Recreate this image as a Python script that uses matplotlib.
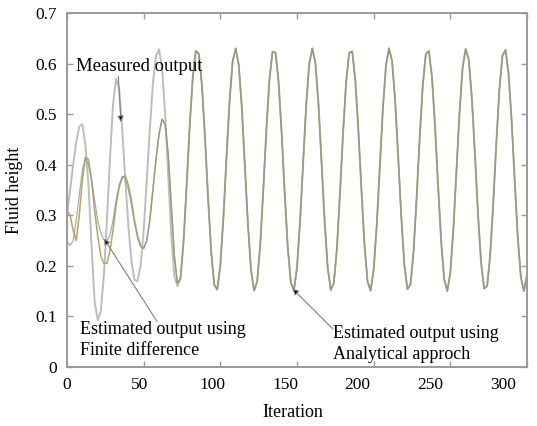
import matplotlib
matplotlib.use("Agg")
import matplotlib.pyplot as plt
from matplotlib.transforms import ScaledTranslation

plt.rcParams['font.family'] = ['Liberation Serif', 'DejaVu Serif']

# sampled every 2 iterations
iteration = list(range(0, 301, 2))

# early transient (iterations 0..72)
measured_start = [0.30, 0.35, 0.40, 0.445, 0.475, 0.48, 0.44, 0.36, 0.24, 0.13,
                  0.093, 0.11, 0.18, 0.29, 0.41, 0.52, 0.57, 0.55, 0.47, 0.37,
                  0.28, 0.21, 0.172, 0.17, 0.20, 0.27, 0.37, 0.47, 0.56, 0.615,
                  0.628, 0.59, 0.50, 0.38, 0.26, 0.18, 0.16]
fd_start = [0.31, 0.30, 0.27, 0.25, 0.30, 0.37, 0.415, 0.41, 0.37, 0.31,
            0.26, 0.22, 0.205, 0.205, 0.23, 0.27, 0.32, 0.355, 0.375, 0.378,
            0.36, 0.33, 0.29, 0.26, 0.24, 0.235, 0.25, 0.29, 0.35, 0.41,
            0.46, 0.49, 0.48, 0.42, 0.32, 0.22, 0.165]
analytical_start = [0.25, 0.24, 0.25, 0.29, 0.34, 0.39, 0.412, 0.40, 0.37, 0.33,
                    0.29, 0.265, 0.252, 0.25, 0.26, 0.29, 0.33, 0.36, 0.377, 0.372,
                    0.35, 0.32, 0.285, 0.255, 0.238, 0.234, 0.25, 0.29, 0.35, 0.41,
                    0.46, 0.49, 0.48, 0.42, 0.32, 0.22, 0.165]

# steady oscillation (iterations 74..300), all three curves overlap here
steady_tail = [0.175, 0.248, 0.358, 0.476, 0.573, 0.625, 0.619, 0.557, 0.453, 0.334,
               0.229, 0.163, 0.153, 0.202, 0.296, 0.414, 0.526, 0.604, 0.630, 0.597,
               0.513, 0.398, 0.282, 0.192, 0.151, 0.169, 0.241, 0.350, 0.468, 0.568,
               0.623, 0.622, 0.563, 0.461, 0.342, 0.235, 0.166, 0.152, 0.197, 0.289,
               0.406, 0.519, 0.600, 0.630, 0.601, 0.520, 0.406, 0.289, 0.197, 0.152,
               0.166, 0.234, 0.342, 0.461, 0.562, 0.621, 0.624, 0.568, 0.469, 0.351,
               0.242, 0.169, 0.151, 0.192, 0.281, 0.397, 0.511, 0.596, 0.630, 0.605,
               0.527, 0.415, 0.297, 0.202, 0.154, 0.163, 0.228, 0.334, 0.453, 0.556,
               0.619, 0.625, 0.574, 0.477, 0.359, 0.249, 0.173, 0.150, 0.187, 0.274,
               0.389, 0.504, 0.592, 0.629, 0.608, 0.533, 0.423, 0.305, 0.208, 0.155,
               0.160, 0.222, 0.325, 0.444, 0.550, 0.616, 0.627, 0.579, 0.485, 0.367,
               0.255, 0.177, 0.150, 0.183]

measured = measured_start + steady_tail
finite_diff = fd_start + steady_tail
analytical = analytical_start + steady_tail

xticks = [0, 50, 100, 150, 200, 250, 300]
yticks = [0, 0.1, 0.2, 0.3, 0.4, 0.5, 0.6, 0.7]

fig = plt.figure(figsize=(5.37, 4.26), dpi=100)
ax = fig.add_axes([0.1248, 0.1385, 0.8566, 0.831])

ax.plot(iteration, measured, color='#bdbdbd', lw=1.4)
ax.plot(iteration, finite_diff, color='#b3a85e', lw=1.1)
ax.plot(iteration, analytical, color='#8a9498', lw=0.9, alpha=0.75)

ax.set_xlim(0, 300)
ax.set_ylim(0, 0.7)
ax.set_xticks(xticks)
ax.set_yticks(yticks)
ax.set_yticklabels(['0', '0.1', '0.2', '0.3', '0.4', '0.5', '0.6', '0.7'])
ax.tick_params(direction='in', length=4, width=1, color='#9a9a9a',
               top=True, right=True, labelsize=12.5, pad=7)
for sp in ax.spines.values():
    sp.set_color('#9a9a9a')
    sp.set_linewidth(1.4)

# the scanned x labels drift a little to the left
for i, lab in enumerate(ax.get_xticklabels()):
    dx = -0.052 * i * 76.7 / 100
    lab.set_transform(lab.get_transform() + ScaledTranslation(dx, 0, fig.dpi_scale_trans))

ax.set_xlabel('Iteration', fontsize=13)
ax.set_ylabel('Fluid height', fontsize=13)
ax.xaxis.set_label_coords(0.491, -0.105)
ax.yaxis.set_label_coords(-0.095, 0.5)

arrow = dict(arrowstyle='-|>', ec='#808080', fc='black', lw=0.8,
             mutation_scale=9, shrinkA=0, shrinkB=0)

ax.text(5.9, 0.594, 'Measured output', fontsize=13.5, va='center', ha='left')
ax.annotate('', xy=(35.2, 0.484), xytext=(33.5, 0.575), arrowprops=arrow)

ax.text(8.5, 0.053, 'Estimated output using\nFinite difference', fontsize=13,
        va='center', ha='left', linespacing=1.3)
ax.annotate('', xy=(24.1, 0.254), xytext=(58.7, 0.09), arrowprops=arrow)

ax.text(173.5, 0.045, 'Estimated output using\nAnalytical approch', fontsize=13,
        va='center', ha='left', linespacing=1.3)
ax.annotate('', xy=(147, 0.155), xytext=(173.5, 0.075), arrowprops=arrow)

fig.savefig('out.png', dpi=100)
